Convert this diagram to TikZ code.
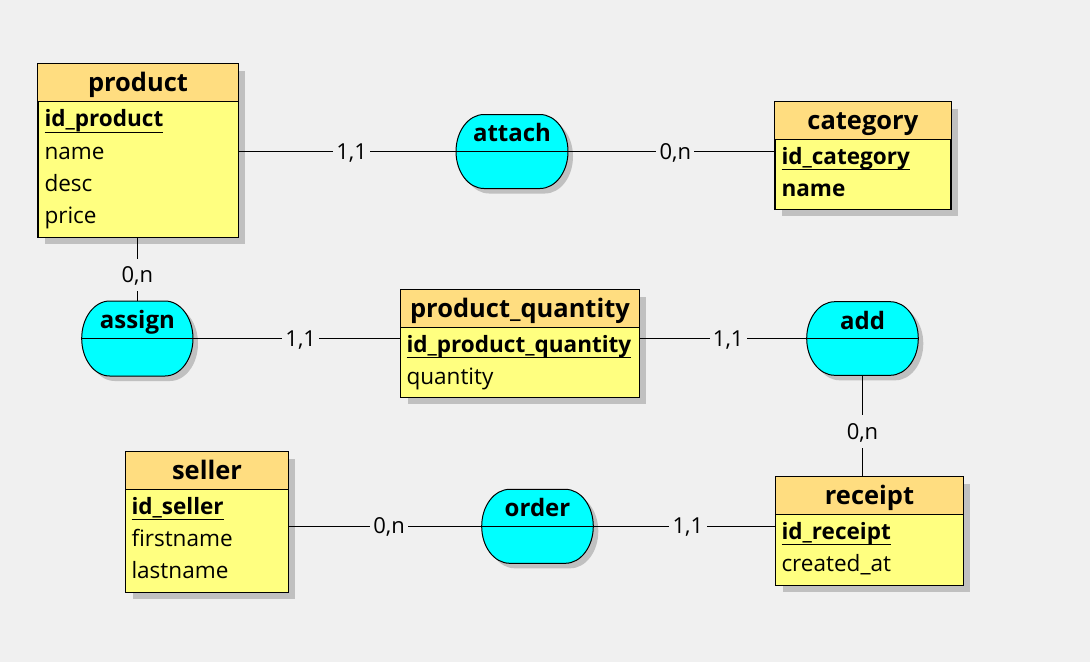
\documentclass[tikz,border=0pt]{standalone}
\usepackage{fontspec}
\setmainfont{Open Sans}
\usetikzlibrary{fit,shadows}
\definecolor{bg}{RGB}{240,240,240}
\definecolor{headfill}{RGB}{255,221,128}
\definecolor{bodyfill}{RGB}{255,255,128}
\definecolor{relfill}{RGB}{0,255,255}
\definecolor{shadowgray}{RGB}{192,192,192}
\newcommand\pk[1]{\setbox0\hbox{#1}\rlap{\rule[-4.6pt]{\wd0}{0.75pt}}\box0}
\newcommand\entbox[3]{%
  \fill[headfill] (#1.north west) rectangle (#1.east |- 0,#2);
  \draw (#1.west |- 0,#2) -- (#1.east |- 0,#2);
  \draw (#1.north west) rectangle (#1.south east);
  \node[ttl] at (#1.north |- 0,#2-9.8) {#3};
}
% relation outline: x1,y1,x2,y2 in px (half-elliptical ends)
\newcommand\relpath[4]{(#1+28,#2) -- (#3-28,#2)
  arc[start angle=90,end angle=-90,x radius=21pt,y radius={(#4-#2)*0.375pt}] -- (#1+28,#4)
  arc[start angle=270,end angle=90,x radius=21pt,y radius={(#4-#2)*0.375pt}] -- cycle}
\newcommand\relation[6]{% name, x1,y1,x2,y2, title
  \fill[shadowgray,shift={(5,5)}] \relpath{#2}{#3}{#4}{#5};
  \draw[fill=relfill] \relpath{#2}{#3}{#4}{#5};
  \node[relnode,fit={(#2,#3) (#4,#5)}] (#1) {};
  \draw (#1.west) -- (#1.east);
  \node[reltitle] at (#1.north |- 0,#3+27.4) {#6};
}
\begin{document}
\begin{tikzpicture}[x=0.75pt,y=-0.75pt,line width=0.75pt,
  ent/.style={draw=black,fill=bodyfill,inner sep=0pt,
    drop shadow={shadow xshift=5.25pt,shadow yshift=-5.25pt,fill=shadowgray,opacity=1}},
  relnode/.style={inner sep=0pt,outer sep=0pt},
  ttl/.style={anchor=base,inner sep=0pt,font=\fontsize{19.1}{22}\selectfont\bfseries},
  reltitle/.style={anchor=base,inner sep=0pt,font=\fontsize{18}{22}\selectfont\bfseries},
  attr/.style={anchor=base west,inner sep=0pt,font=\fontsize{16.9}{20}\selectfont},
  pkattr/.style={anchor=base west,inner sep=0pt,font=\fontsize{16.9}{20}\selectfont\bfseries},
  card/.style={fill=bg,inner xsep=2.5pt,inner ysep=1.5pt,text height=16.5pt,text depth=5pt,
    font=\fontsize{16.5}{20}\selectfont},
  link/.style={draw=black,line width=0.75pt},
]
\fill[bg] (0,0) rectangle (1090,662);
\useasboundingbox (0,0) rectangle (1090,662);

% ---------- entities ----------
\node[ent,fit={(38,64) (238,237)}] (product) {};
\entbox{product}{101.7}{product}
\node[pkattr] at (44,126.7) {\pk{id\_product}};
\node[attr] at (44,159) {name};
\node[attr] at (44,191.3) {desc};
\node[attr] at (44,223.6) {price};

\node[ent,fit={(775,101.7) (950.7,209.3)}] (category) {};
\entbox{category}{139.3}{category}
\node[pkattr] at (781,164.3) {\pk{id\_category}};
\node[pkattr] at (781,196.6) {name};

\node[ent,fit={(400.7,290) (639.3,397.3)}] (pq) {};
\entbox{pq}{327}{product\_quantity}
\node[pkattr] at (406,352) {\pk{id\_product\_quantity}};
\node[attr] at (406,384.3) {quantity};

\node[ent,fit={(125.7,451.7) (288.3,592.3)}] (seller) {};
\entbox{seller}{489.3}{seller}
\node[pkattr] at (131,514.3) {\pk{id\_seller}};
\node[attr] at (131,546.6) {firstname};
\node[attr] at (131,578.9) {lastname};

\node[ent,fit={(775.7,476.7) (963.3,585)}] (receipt) {};
\entbox{receipt}{514.3}{receipt}
\node[pkattr] at (781,539.3) {\pk{id\_receipt}};
\node[attr] at (781,571.6) {created\_at};

% ---------- relations ----------
\relation{attach}{456}{114.5}{568}{188.5}{attach}
\relation{assign}{81.7}{301}{193}{376}{assign}
\relation{add}{806.7}{301.7}{918.3}{375.3}{add}
\relation{order}{481.7}{489.3}{593.3}{563.3}{order}

% ---------- connectors ----------
\draw[link] (attach.west -| product.east) -- node[card,pos=.52]{1,1} (attach.west);
\draw[link] (attach.east) -- node[card,pos=.52]{0,n} (attach.east -| category.west);
\draw[link] (product.south -| assign.north) -- node[card,pos=.59]{0,n} (assign.north);
\draw[link] (assign.east) -- node[card,pos=.52]{1,1} (assign.east -| pq.west);
\draw[link] (add.west -| pq.east) -- node[card,pos=.53]{1,1} (add.west);
\draw[link] (add.south) -- node[card,pos=.556]{0,n} (add.south |- receipt.north);
\draw[link] (order.west -| seller.east) -- node[card,pos=.52]{0,n} (order.west);
\draw[link] (order.east) -- node[card,pos=.52]{1,1} (order.east -| receipt.west);
\end{tikzpicture}
\end{document}
